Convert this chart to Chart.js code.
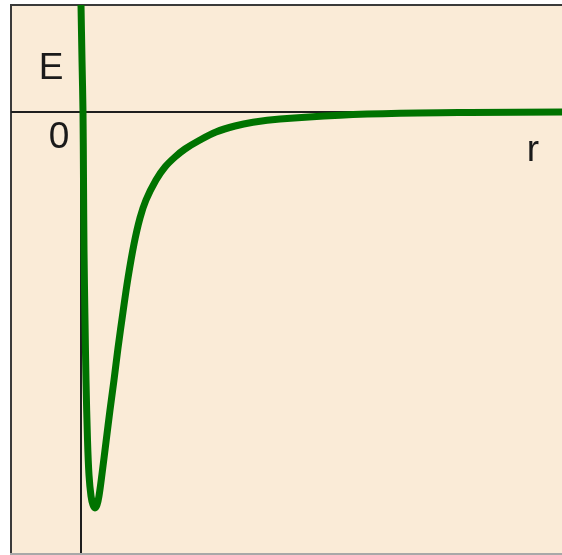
<!DOCTYPE html>
<html>
<head>
<meta charset="utf-8">
<script src="https://cdn.jsdelivr.net/npm/chart.js@4/dist/chart.umd.min.js"></script>
<style>
  html, body { margin: 0; padding: 0; background: #fff; }
  canvas { display: block; }
</style>
</head>
<body>
<canvas id="potential" width="562" height="555"></canvas>
<script>
// Potential energy E(r) of a pair of atoms: steep repulsive wall, deep well, flat tail
const rValues = [-0.005, 0.00, 0.01, 0.02, 0.025, 0.03, 0.04, 0.05, 0.065, 0.08, 0.10, 0.12, 0.14,
  0.16, 0.18, 0.21, 0.25, 0.29, 0.33, 0.37, 0.42, 0.47, 0.53, 0.59, 0.65, 0.75, 0.84, 0.94,
  1.04, 1.19, 1.35, 1.54, 1.72, 1.99, 2.59, 3.19, 3.89, 4.81]
const eValues = [1.32, 1.07, 0.52, 0.00, -0.68, -1.38, -2.08, -2.68, -3.28, -3.63, -3.84, -3.93, -3.96,
  -3.93, -3.84, -3.62, -3.30, -2.98, -2.68, -2.36, -2.00, -1.66, -1.32, -1.06, -0.88, -0.68, -0.55, -0.45,
  -0.37, -0.28, -0.20, -0.14, -0.103, -0.07, -0.032, -0.013, -0.005, 0.00]

const axisLabels = { y: 'E', origin: '0', x: 'r' }

const COLORS = {
  paper: '#FAEBD7',
  curve: '#007300',
  axis: '#1e1e1e',
  frame: '#3a3a3a',
  frameBottom: '#a8a8a8',
  text: '#1a1a1a',
}

// frame, background, the two zero axes and the letters
const sketchPlugin = {
  id: 'sketch',
  beforeDraw(chart) {
    const { ctx, chartArea: a } = chart
    ctx.save()
    ctx.fillStyle = '#fff'
    ctx.fillRect(0, 0, chart.width, chart.height)
    ctx.fillStyle = COLORS.paper
    ctx.fillRect(a.left, a.top, a.right - a.left, a.bottom - a.top)
    ctx.fillStyle = COLORS.frame
    ctx.fillRect(a.left - 1, a.top - 1, a.right - a.left + 1, 2)
    ctx.fillRect(a.left - 1, a.top - 1, 2, a.bottom - a.top + 1)
    ctx.fillStyle = COLORS.frameBottom
    ctx.fillRect(a.left - 1, a.bottom, a.right - a.left + 1, 2)
    ctx.restore()
  },
  beforeDatasetsDraw(chart) {
    const { ctx, chartArea: a, scales: { x, y } } = chart
    const x0 = Math.round(x.getPixelForValue(0))
    const y0 = Math.round(y.getPixelForValue(0))
    ctx.save()
    ctx.strokeStyle = COLORS.axis
    ctx.lineWidth = 2
    ctx.beginPath()
    ctx.moveTo(a.left, y0)
    ctx.lineTo(a.right, y0)
    ctx.moveTo(x0, a.top)
    ctx.lineTo(x0, a.bottom)
    ctx.stroke()

    ctx.fillStyle = COLORS.text
    ctx.font = '37px "Liberation Sans", Arial, sans-serif'
    ctx.textAlign = 'center'
    ctx.textBaseline = 'alphabetic'
    ctx.fillText(axisLabels.y, x0 - 30, y0 - 33)
    ctx.fillText(axisLabels.origin, x0 - 22, y0 + 36)
    ctx.fillText(axisLabels.x, x.right - 29, y0 + 49)
    ctx.restore()
  },
}

new Chart(document.getElementById('potential'), {
  type: 'line',
  data: {
    labels: rValues,
    datasets: [{
      data: rValues.map((r, i) => ({ x: r, y: eValues[i] })),
      borderColor: COLORS.curve,
      borderWidth: 7,
      borderJoinStyle: 'round',
      pointRadius: 0,
      tension: 0.35,
      fill: false,
    }]
  },
  options: {
    responsive: false,
    animation: false,
    devicePixelRatio: 1,
    layout: { autoPadding: false, padding: { left: 11, top: 5, right: 0, bottom: 2 } },
    plugins: { legend: { display: false }, tooltip: { enabled: false } },
    scales: {
      x: { type: 'linear', display: false, min: -0.70, max: 4.81 },
      y: { type: 'linear', display: false, min: -4.41, max: 1.07 },
    },
  },
  plugins: [sketchPlugin],
})
</script>
</body>
</html>
